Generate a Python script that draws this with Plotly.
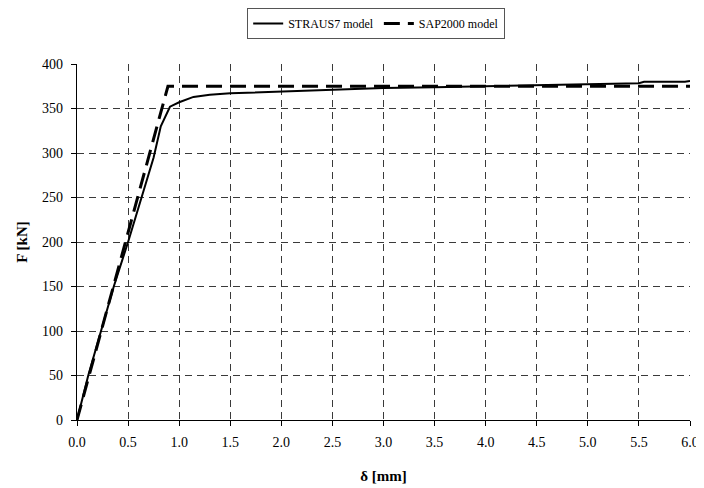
import plotly.graph_objects as go

straus_x = [0.0, 0.11, 0.36, 0.5, 0.75, 0.82, 0.91, 1.0, 1.14, 1.3, 1.5, 2.0, 2.5, 3.0, 3.5, 4.0, 4.5, 5.0, 5.1, 5.5, 5.55, 5.95, 6.0]
straus_y = [0, 50, 150, 200, 295, 330, 352, 357, 363, 365.5, 367, 369, 371, 373, 374, 375, 376, 377, 378, 378.5, 380, 380, 381]

sap_x = [0.0, 0.89, 6.0]
sap_y = [0, 375, 375]

x_ticks = [0.0, 0.5, 1.0, 1.5, 2.0, 2.5, 3.0, 3.5, 4.0, 4.5, 5.0, 5.5, 6.0]
y_ticks = [0, 50, 100, 150, 200, 250, 300, 350, 400]

FONT = "Liberation Serif"

fig = go.Figure()
fig.add_trace(go.Scatter(x=straus_x, y=straus_y, mode="lines", name="STRAUS7 model",
                         line=dict(color="black", width=2)))
fig.add_trace(go.Scatter(x=sap_x, y=sap_y, mode="lines", name="SAP2000 model",
                         line=dict(color="black", width=3, dash="16px,8px")))

axis_common = dict(showline=True, linecolor="black", linewidth=1.2, ticks="outside",
                   ticklen=5, tickcolor="black", showgrid=True, gridcolor="#3a3a3a",
                   griddash="7px,5px", gridwidth=1, zeroline=False, automargin=False,
                   tickfont=dict(family=FONT, size=14, color="black"))

fig.update_layout(
    width=696, height=480,
    margin=dict(l=69, r=14, t=56, b=68),
    paper_bgcolor="white", plot_bgcolor="white",
    font=dict(family=FONT, color="black", size=14),
    showlegend=True,
    legend=dict(orientation="h", x=0.529, xanchor="center", xref="container",
                y=1.0, yanchor="top", yref="container",
                bordercolor="#555555", borderwidth=1,
                font=dict(family=FONT, size=12, color="black"),
                itemwidth=30, tracegroupgap=0),
    xaxis=dict(range=[0, 6], tickvals=x_ticks, ticktext=[f"{v:.1f}" for v in x_ticks],
               ticklabelstandoff=4,
               title=dict(text="<b>δ [mm]</b>", font=dict(family=FONT, size=15), standoff=21),
               **axis_common),
    yaxis=dict(range=[0, 400], tickvals=y_ticks, ticklabelstandoff=5,
               title=dict(text="<b>F [kN]</b>", font=dict(family=FONT, size=15), standoff=10),
               **axis_common),
)

fig.write_html("out.html")
